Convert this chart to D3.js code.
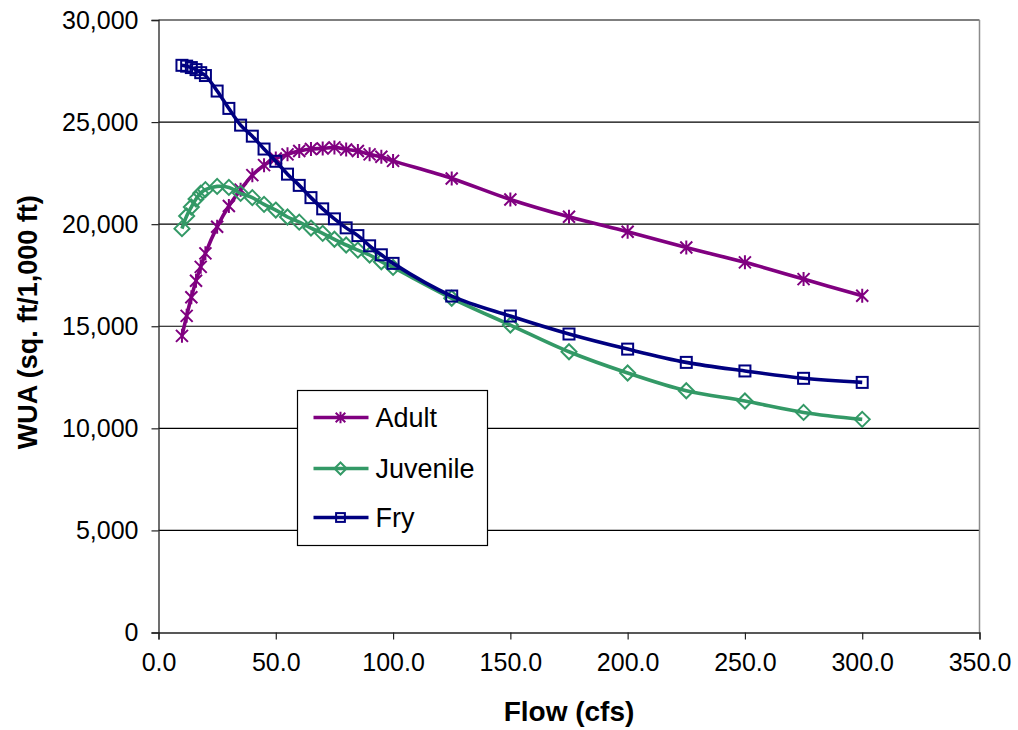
<!DOCTYPE html>
<html>
<head>
<meta charset="utf-8">
<script src="https://cdn.jsdelivr.net/npm/d3@7/dist/d3.min.js"></script>
<style>
  html, body { margin: 0; padding: 0; background: #fff; }
  svg { display: block; font-family: Arial, "Liberation Sans", sans-serif; }
</style>
</head>
<body>
<svg id="chart" width="1018" height="730"></svg>
<script>
// Flow values (cfs) shared by all three life stages
const flows = [10, 12, 14, 16, 18, 20, 25, 30, 35, 40, 45, 50, 55, 60, 65, 70, 75, 80, 85, 90, 95, 100,
               125, 150, 175, 200, 225, 250, 275, 300];

// Weighted usable area (sq. ft / 1,000 ft)
const adult = [14530, 15510, 16420, 17230, 17910, 18570, 19870, 20890, 21690, 22400, 22890, 23220,
               23420, 23580, 23680, 23710, 23760, 23660, 23580, 23420, 23300, 23100,
               22240, 21210, 20360, 19630, 18860, 18130, 17310, 16490];
const juvenile = [19780, 20400, 20840, 21230, 21520, 21690, 21850, 21800, 21510, 21300, 20970, 20690,
                  20350, 20100, 19810, 19550, 19260, 18980, 18730, 18490, 18160, 17880,
                  16370, 15060, 13750, 12710, 11840, 11340, 10780, 10440];
const fry = [27780, 27740, 27670, 27570, 27420, 27280, 26520, 25670, 24850, 24310, 23680, 23080,
             22450, 21900, 21300, 20750, 20260, 19820, 19440, 18940, 18500, 18080,
             16480, 15500, 14620, 13880, 13230, 12810, 12450, 12250];

const seriesNames = ["Adult", "Juvenile", "Fry"];
const xTicks = [0, 50, 100, 150, 200, 250, 300, 350];
const yTicks = [0, 5000, 10000, 15000, 20000, 25000, 30000];

const series = [
  { name: seriesNames[0], values: adult,    color: "#800080", marker: "star" },
  { name: seriesNames[1], values: juvenile, color: "#339966", marker: "diamond" },
  { name: seriesNames[2], values: fry,      color: "#000080", marker: "square" }
];

const svg = d3.select("#chart");
const plot = { left: 158.5, right: 979.5, top: 20, bottom: 632.5 };

const x = d3.scaleLinear().domain([0, 350]).range([plot.left, plot.right]);
const y = d3.scaleLinear().domain([0, 30000]).range([plot.bottom, plot.top]);

// horizontal gridlines
svg.append("g")
  .selectAll("line")
  .data(yTicks.filter(d => d > 0))
  .join("line")
  .attr("x1", plot.left).attr("x2", plot.right)
  .attr("y1", d => y(d)).attr("y2", d => y(d))
  .attr("stroke", "#000").attr("stroke-width", 1.2);

// right edge of plot area
svg.append("line")
  .attr("x1", plot.right).attr("x2", plot.right)
  .attr("y1", plot.top).attr("y2", plot.bottom)
  .attr("stroke", "#8c8c8c").attr("stroke-width", 1.5);

// axes
const fmtY = d3.format(",");
const yAxis = d3.axisLeft(y).tickValues(yTicks).tickFormat(fmtY).tickSizeOuter(0).tickSize(7).tickPadding(13);
const xAxis = d3.axisBottom(x).tickValues(xTicks).tickFormat(d3.format(".1f")).tickSizeOuter(0).tickSize(7).tickPadding(14);

const gy = svg.append("g").attr("transform", `translate(${plot.left},0)`).call(yAxis);
const gx = svg.append("g").attr("transform", `translate(0,${plot.bottom})`).call(xAxis);
[gx, gy].forEach(g => {
  g.select(".domain").attr("stroke", "#222").attr("stroke-width", 1.3);
  g.selectAll(".tick line").attr("stroke", "#222").attr("stroke-width", 1.2);
  g.selectAll(".tick text").attr("fill", "#000").style("font-size", "25px").style("font-family", "Arial, 'Liberation Sans', sans-serif");
});

// axis titles
svg.append("text")
  .attr("x", (plot.left + plot.right) / 2).attr("y", 721)
  .attr("text-anchor", "middle")
  .style("font-size", "28px").style("font-weight", "bold")
  .text("Flow (cfs)");

svg.append("text")
  .attr("transform", `translate(37,${(plot.top + plot.bottom) / 2 - 4}) rotate(-90)`)
  .attr("text-anchor", "middle")
  .style("font-size", "27px").style("font-weight", "bold")
  .text("WUA (sq. ft/1,000 ft)");

// marker shapes
function drawMarker(g, type, color, scale = 1) {
  if (type === "star") {
    const r = 6 * scale;
    g.append("path")
      .attr("d", `M${-r},${-r}L${r},${r}M${-r},${r}L${r},${-r}M0,${-r - 1}L0,${r + 1}`)
      .attr("stroke", color).attr("stroke-width", 2).attr("fill", "none");
  } else if (type === "diamond") {
    const r = 7.5 * scale;
    g.append("path")
      .attr("d", `M0,${-r}L${r},0L0,${r}L${-r},0Z`)
      .attr("stroke", color).attr("stroke-width", 2).attr("fill", "none");
  } else {
    const r = 5.5 * scale;
    g.append("rect")
      .attr("x", -r).attr("y", -r).attr("width", 2 * r).attr("height", 2 * r)
      .attr("stroke", color).attr("stroke-width", 2).attr("fill", "none");
  }
}

const line = d3.line()
  .x(d => x(d[0]))
  .y(d => y(d[1]))
  .curve(d3.curveCatmullRom.alpha(0.5));

series.forEach(s => {
  const pts = flows.map((f, i) => [f, s.values[i]]);
  const g = svg.append("g");
  g.append("path")
    .datum(pts)
    .attr("d", line)
    .attr("fill", "none")
    .attr("stroke", s.color)
    .attr("stroke-width", 3.6)
    .attr("stroke-linejoin", "round");
  g.selectAll("g.mk")
    .data(pts)
    .join("g")
    .attr("class", "mk")
    .attr("transform", d => `translate(${x(d[0])},${y(d[1])})`)
    .each(function () { drawMarker(d3.select(this), s.marker, s.color); });
});

// legend
const legend = svg.append("g").attr("transform", "translate(297.5,390.5)");
legend.append("rect")
  .attr("width", 190).attr("height", 155)
  .attr("fill", "#fff").attr("stroke", "#000").attr("stroke-width", 1.2);
const rowY = [27, 78, 127];
series.forEach((s, i) => {
  const row = legend.append("g").attr("transform", `translate(0,${rowY[i]})`);
  row.append("line")
    .attr("x1", 16).attr("x2", 71).attr("y1", 0).attr("y2", 0)
    .attr("stroke", s.color).attr("stroke-width", 3.3);
  const m = row.append("g").attr("transform", "translate(43,0)");
  drawMarker(m, s.marker, s.color, 0.8);
  row.append("text")
    .attr("x", 78).attr("y", 9.5)
    .style("font-size", "27px")
    .text(s.name);
});
</script>
</body>
</html>
